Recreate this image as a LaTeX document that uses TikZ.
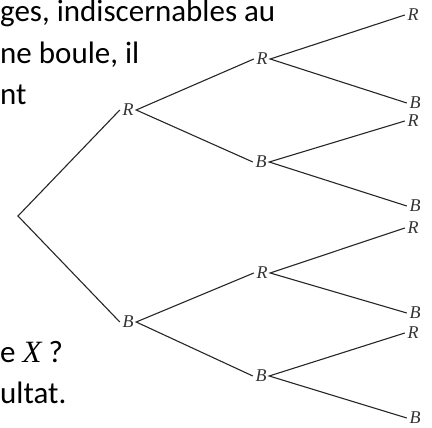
\documentclass[tikz,border=0pt]{standalone}
\usepackage{fontspec}
\setmainfont{Carlito}
\newfontfamily\labfont{Liberation Serif}
\begin{document}
\begin{tikzpicture}[x=1pt,y=-1pt,
  body/.style={anchor=base west,inner sep=0pt,font=\fontsize{31}{36}\selectfont},
  lab/.style={inner sep=2.5pt,font=\labfont\itshape\fontsize{18}{21}\selectfont,text=black!80},
  edge/.style={line width=1.1pt,black!85}]
\useasboundingbox (0,0) rectangle (432,428);
% body text fragments
\node[body] (t1) at (0,22) {ges, indiscernables au};
\node[body] (t2) at (0,64) {ne boule, il};
\node[body] (t3) at (0,105) {nt};
\node[body] (t4) at (0,362) {e {\labfont\itshape X} ?};
\node[body] (t5) at (0,403) {ultat.};
% tree
\coordinate (root) at (18,216);
\node[lab] (r) at (128,110) {R};
\node[lab] (b) at (128,322) {B};
\node[lab] (rr) at (262,59) {R};
\node[lab] (rb) at (261,162) {B};
\node[lab] (br) at (262,273) {R};
\node[lab] (bb) at (261,376) {B};
\node[lab] (rrr) at (413,15) {R};
\node[lab] (rrb) at (415,103) {B};
\node[lab] (rbr) at (413,121) {R};
\node[lab] (rbb) at (415,206) {B};
\node[lab] (brr) at (413,228) {R};
\node[lab] (brb) at (415,313) {B};
\node[lab] (bbr) at (413,333) {R};
\node[lab] (bbb) at (415,418) {B};
\draw[edge] (r.west) -- (root) -- (b.west);
\draw[edge] (rr.west) -- (r.east) -- (rb.west);
\draw[edge] (br.west) -- (b.east) -- (bb.west);
\draw[edge] (rrr.west) -- (rr.east) -- (rrb.west);
\draw[edge] (rbr.west) -- (rb.east) -- (rbb.west);
\draw[edge] (brr.west) -- (br.east) -- (brb.west);
\draw[edge] (bbr.west) -- (bb.east) -- (bbb.west);
\end{tikzpicture}
\end{document}
